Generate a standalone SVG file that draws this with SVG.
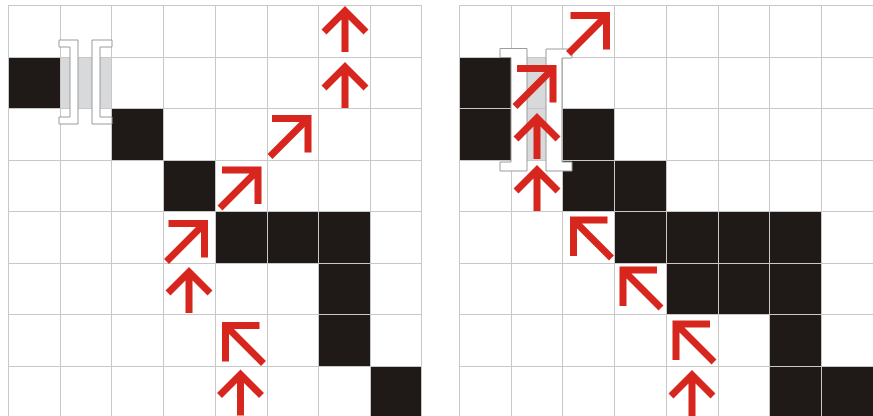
<svg xmlns="http://www.w3.org/2000/svg" xmlns:xlink="http://www.w3.org/1999/xlink" width="873" height="416" viewBox="0 0 873 416">
<style>
.blk{fill:#1f1a17}
.sel{fill:#d7d9db}
.grid{fill:none;stroke:#c8c8c8;stroke-width:1}
.brk{fill:#ffffff;stroke:#9c9c9c;stroke-width:1}
.arw{fill:none;stroke:#d7261e;stroke-width:7;stroke-linejoin:miter;stroke-miterlimit:10;stroke-linecap:butt}
</style>
<defs>
<path id="up" class="arw" d="M-21,21 L0,0 L21,21 M0,0 V41"/>
<path id="ne" class="arw" d="M-36,0 H0 V34 M0,0 L-38,38"/>
</defs>
<rect width="873" height="416" fill="#ffffff"/>

<g id="left-panel">
  <g id="left-cells">
    <rect class="blk" x="8" y="57" width="52" height="51.5"/>
    <rect class="blk" x="111.5" y="108.5" width="52" height="51.5"/>
    <rect class="blk" x="163.5" y="160" width="51.5" height="51.5"/>
    <rect class="blk" x="215" y="211.5" width="155.5" height="51.5"/>
    <rect class="blk" x="318.5" y="263" width="52" height="103"/>
    <rect class="blk" x="370.5" y="366" width="51.5" height="51"/>
    <rect class="sel" x="60" y="57" width="51.5" height="51.5"/>
  </g>
  <path id="left-grid" class="grid" d="M8.5,5V417 M60.5,5V417 M111.5,5V417 M163.5,5V417 M215.5,5V417 M267.5,5V417 M318.5,5V417 M370.5,5V417 M421.5,5V417 M8,5.5H422 M8,57.5H422 M8,108.5H422 M8,160.5H422 M8,211.5H422 M8,263.5H422 M8,314.5H422 M8,366.5H422"/>
  <g id="left-brackets">
    <polygon class="brk" points="59,40 78,40 78,124 59,124 59,117 70,117 70,47 59,47"/>
    <polygon class="brk" points="92,40 112,40 112,47 100,47 100,117 112,117 112,124 92,124"/>
  </g>
  <g id="left-arrows">
    <use xlink:href="#up" transform="translate(345,11)"/>
    <use xlink:href="#up" transform="translate(345,67)"/>
    <use xlink:href="#ne" transform="translate(308,118.5)"/>
    <use xlink:href="#ne" transform="translate(258,170)"/>
    <use xlink:href="#ne" transform="translate(204.5,223.5)"/>
    <use xlink:href="#up" transform="translate(189,272)"/>
    <use xlink:href="#ne" transform="translate(225.5,325.5) rotate(-90)"/>
    <use xlink:href="#up" transform="translate(240.5,374.5)"/>
  </g>
</g>

<g id="right-panel">
  <g id="right-cells">
    <rect class="blk" x="459.5" y="57" width="51.5" height="103"/>
    <rect class="blk" x="563" y="108.5" width="51.5" height="103"/>
    <rect class="blk" x="614.5" y="160" width="51.5" height="51.5"/>
    <rect class="blk" x="614.5" y="211.5" width="206.5" height="51.5"/>
    <rect class="blk" x="666" y="263" width="155" height="51.5"/>
    <rect class="blk" x="769.5" y="314.5" width="51.5" height="51.5"/>
    <rect class="blk" x="769.5" y="366" width="103.5" height="51"/>
    <rect class="sel" x="511" y="57" width="52" height="103"/>
  </g>
  <path id="right-grid" class="grid" d="M459.5,5V417 M511.5,5V417 M562.5,5V417 M614.5,5V417 M666.5,5V417 M718.5,5V417 M769.5,5V417 M821.5,5V417 M459,5.5H873 M459,57.5H873 M459,108.5H873 M459,160.5H873 M459,211.5H873 M459,263.5H873 M459,314.5H873 M459,366.5H873"/>
  <g id="right-brackets">
    <polygon class="brk" points="500,48.5 527,48.5 527,171 500,171 500,162 511,162 511,57.5 500,57.5"/>
    <polygon class="brk" points="546,49 572,49 572,58 562,58 562,162 572,162 572,171 546,171"/>
  </g>
  <g id="right-arrows">
    <use xlink:href="#ne" transform="translate(606.5,15.5)"/>
    <use xlink:href="#ne" transform="translate(553,68.5)"/>
    <use xlink:href="#up" transform="translate(537,118)"/>
    <use xlink:href="#up" transform="translate(537,170)"/>
    <use xlink:href="#ne" transform="translate(573.5,220) rotate(-90)"/>
    <use xlink:href="#ne" transform="translate(623,270) rotate(-90)"/>
    <use xlink:href="#ne" transform="translate(676,324) rotate(-90)"/>
    <use xlink:href="#up" transform="translate(692,375)"/>
  </g>
</g>
</svg>
